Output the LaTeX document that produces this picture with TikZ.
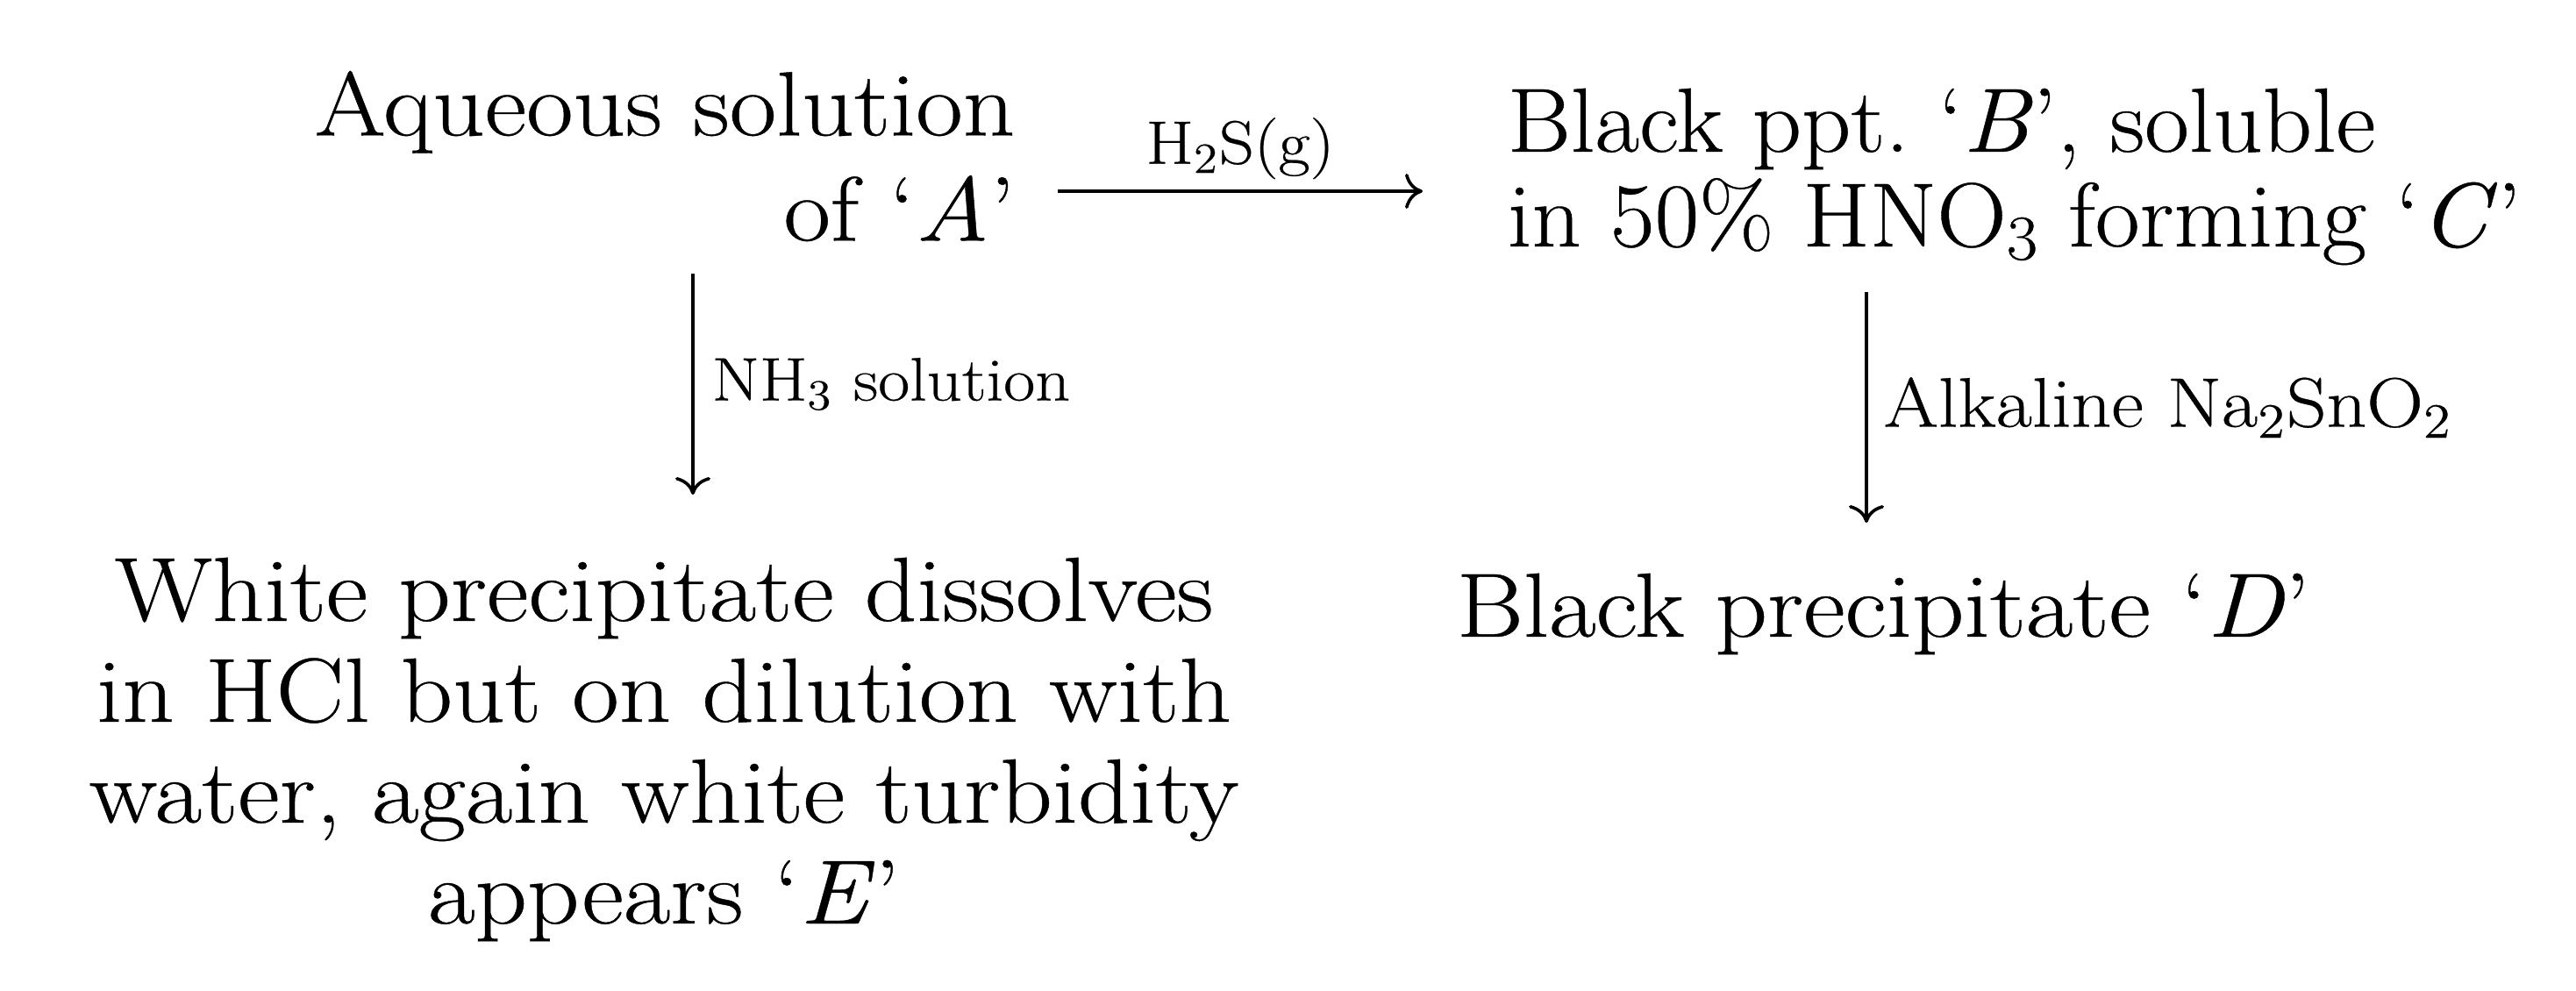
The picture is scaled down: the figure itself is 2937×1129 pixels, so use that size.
\documentclass[tikz,border=0pt]{standalone}
\usepackage{fontspec}
\setmainfont{Latin Modern Roman}[Ligatures=TeX, FakeStretch=1.12, FakeBold=0.4]
\newfontfamily\narrowlm{Latin Modern Roman}[Ligatures=TeX, FakeStretch=1.06, FakeBold=0.4]
\usetikzlibrary{arrows.meta}
\begin{document}
\begin{tikzpicture}[x=0.25pt,y=-0.25pt,
  txt/.style={inner sep=0pt, font=\fontsize{26}{29}\selectfont},
  lbl/.style={inner sep=0pt, font=\fontsize{17.5}{20}\selectfont},
  arr/.style={line width=0.9pt, -{To[length=5pt,width=10pt]}}]
\useasboundingbox (0,0) rectangle (2937,1129);
\node[txt, anchor=north east, align=right, font=\fontsize{26}{30}\selectfont] (A) at (1158,80)
  {Aqueous solution\\of ‘\textit{A}’};
\node[txt, anchor=north west, align=left, font=\narrowlm\fontsize{26}{27}\selectfont] (B) at (1718,100)
  {Black ppt.\ ‘\textit{B}’, soluble\\in 50\% HNO\textsubscript{3} forming ‘\textit{C}’};
\node[txt, anchor=north west] (D) at (1660,653) {Black precipitate ‘\textit{D}’};
\node[txt, anchor=north, align=center, font=\fontsize{26}{28.75}\selectfont] (E) at (757,635)
  {White precipitate dissolves\\in HCl but on dilution with\\water, again white turbidity\\appears ‘\textit{E}’};
\path (A.north east) ++(48,138) coordinate (h1);
\path (B.north west) ++(-96,118) coordinate (h2);
\draw[arr] (h1) -- (h2 |- h1) node[midway, above=3pt, lbl] (l1) {H\textsubscript{2}S(g)};
\path (A.north east) ++(-368,232) coordinate (v1);
\path (E.north) ++(33,-71) coordinate (v2);
\draw[arr] (v1) -- (v1 |- v2) node[midway, right=5pt, lbl] (l2) {NH\textsubscript{3} solution};
\path (B.north west) ++(410,233) coordinate (v3);
\path (D.north west) ++(468,-57) coordinate (v4);
\draw[arr] (v3) -- (v3 |- v4) node[midway, right=4.5pt, lbl, font=\fontsize{20}{22}\selectfont] (l3) {Alkaline Na\textsubscript{2}SnO\textsubscript{2}};
\end{tikzpicture}
\end{document}
